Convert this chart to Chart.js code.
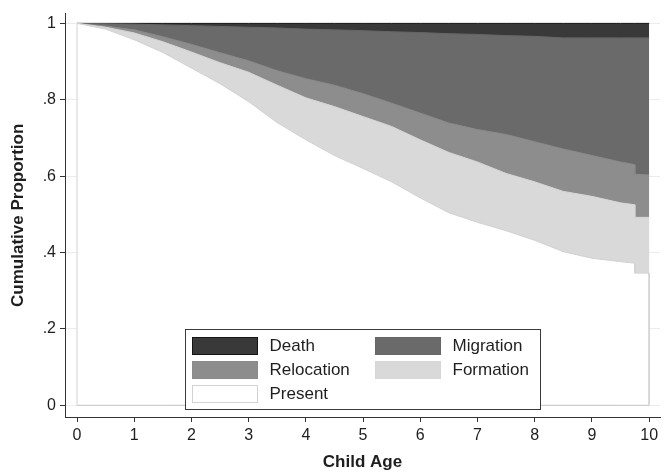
<!DOCTYPE html>
<html>
<head>
<meta charset="utf-8">
<script src="https://cdn.jsdelivr.net/npm/chart.js@4"></script>
<style>
  html, body { margin: 0; padding: 0; background: #fff; }
  #wrap { width: 667px; height: 474px; }
</style>
</head>
<body>
<div id="wrap"><canvas id="c" width="667" height="474"></canvas></div>
<script>
// child age (years), step at 9.75 is doubled on purpose
const ages = [0, 0.5, 1, 1.5, 2, 2.5, 3, 3.5, 4, 4.5, 5, 5.5, 6, 6.5, 7, 7.5, 8, 8.5, 9, 9.5, 9.75, 9.75, 10];

// cumulative upper edge of each band
const presentTop    = [1, 0.985, 0.957, 0.924, 0.883, 0.842, 0.795, 0.740, 0.695, 0.654, 0.620, 0.585, 0.543, 0.504, 0.479, 0.457, 0.432, 0.402, 0.385, 0.376, 0.372, 0.346, 0.346];
const formationTop  = [1, 0.990, 0.975, 0.952, 0.925, 0.897, 0.872, 0.838, 0.805, 0.782, 0.756, 0.730, 0.695, 0.662, 0.637, 0.607, 0.585, 0.560, 0.547, 0.530, 0.525, 0.492, 0.492];
const relocationTop = [1, 0.993, 0.983, 0.965, 0.945, 0.923, 0.902, 0.876, 0.855, 0.838, 0.816, 0.791, 0.765, 0.739, 0.722, 0.709, 0.690, 0.671, 0.654, 0.637, 0.630, 0.605, 0.603];
const migrationTop  = [1, 0.999, 0.998, 0.996, 0.994, 0.992, 0.990, 0.988, 0.985, 0.983, 0.981, 0.978, 0.976, 0.973, 0.971, 0.968, 0.966, 0.962, 0.962, 0.962, 0.962, 0.962, 0.962];
const deathTop      = [1, 1, 1, 1, 1, 1, 1, 1, 1, 1, 1, 1, 1, 1, 1, 1, 1, 1, 1, 1, 1, 1, 1];

const xTicks = [0, 1, 2, 3, 4, 5, 6, 7, 8, 9, 10];
const yTicks = [0, 0.2, 0.4, 0.6, 0.8, 1];
const yTickLabels = ['0', '.2', '.4', '.6', '.8', '1'];

const legendNames = ['Death', 'Migration', 'Relocation', 'Formation', 'Present'];

const FONT = '"Liberation Sans", Arial, sans-serif';

function band(vals, closed) {
    const pts = ages.map((a, i) => ({x: a, y: vals[i]}));
    // only the white band gets its outline down to zero
    if (closed) {
        pts.unshift({x: ages[0], y: 0});
        pts.push({x: ages[ages.length - 1], y: 0});
    }
    return pts;
}

const styles = {
    Death:      {fill: '#393939', line: '#141414'},
    Migration:  {fill: '#6a6a6a', line: '#666666'},
    Relocation: {fill: '#8d8d8d', line: '#8a8a8a'},
    Formation:  {fill: '#d9d9d9', line: '#d6d6d6'},
    Present:    {fill: '#ffffff', line: '#d2d2d2'},
};

function ds(name, vals, closed) {
    return {
        label: name,
        data: band(vals, closed),
        backgroundColor: styles[name].fill,
        borderColor: styles[name].line,
        borderWidth: 1,
        pointRadius: 0,
        fill: 'origin',
        tension: 0,
    };
}

// first dataset ends up on top
const datasets = [
    {label: 'base', data: [{x: 0, y: 0}, {x: 10, y: 0}], borderColor: '#d2d2d2', borderWidth: 1, pointRadius: 0, fill: false},
    ds('Present', presentTop, true),
    ds('Formation', formationTop),
    ds('Relocation', relocationTop),
    ds('Migration', migrationTop),
    ds('Death', deathTop),
];

const legendBox = {
    id: 'legendBox',
    afterDraw(chart) {
        const ctx = chart.ctx;
        ctx.save();
        ctx.fillStyle = '#fff';
        ctx.fillRect(185.5, 329.5, 355, 80);
        ctx.strokeStyle = '#3a3a3a';
        ctx.lineWidth = 1;
        ctx.strokeRect(185.5, 329.5, 355, 80);
        ctx.font = '17px ' + FONT;
        ctx.textBaseline = 'middle';
        legendNames.forEach((name, i) => {
            const col = i % 2, row = Math.floor(i / 2);
            const sx = col === 0 ? 192.5 : 375.5;
            const sy = 337.5 + row * 24;
            ctx.fillStyle = styles[name].fill;
            ctx.fillRect(sx, sy, 65, 17);
            ctx.strokeStyle = styles[name].line;
            ctx.strokeRect(sx, sy, 65, 17);
            ctx.fillStyle = '#1e1e1e';
            ctx.fillText(name, sx + 77, sy + 9);
        });
        ctx.restore();
    }
};

new Chart(document.getElementById('c'), {
    type: 'line',
    data: {datasets: datasets},
    options: {
        responsive: false,
        animation: false,
        parsing: false,
        layout: {padding: {top: 5, right: 7, left: 0, bottom: 0}},
        plugins: {legend: {display: false}, tooltip: {enabled: false}},
        scales: {
            x: {
                type: 'linear',
                min: -0.21,
                max: 10.19,
                afterBuildTicks: s => { s.ticks = xTicks.map(v => ({value: v})); },
                afterFit: s => { s.height = 57; },
                ticks: {font: {family: FONT, size: 16}, color: '#1e1e1e', padding: 4, maxRotation: 0},
                grid: {drawOnChartArea: false, tickLength: 5, tickColor: '#333'},
                border: {color: '#333', width: 1},
                title: {display: true, text: 'Child Age', font: {family: FONT, size: 17, weight: 'bold'}, color: '#1e1e1e', padding: {top: 0, bottom: 1}},
            },
            y: {
                type: 'linear',
                min: -0.0308,
                max: 1.0256,
                afterBuildTicks: s => { s.ticks = yTicks.map(v => ({value: v})); },
                afterFit: s => { s.width = 65; },
                ticks: {
                    font: {family: FONT, size: 16}, color: '#1e1e1e', padding: 4,
                    callback: v => yTickLabels[yTicks.indexOf(v)],
                },
                grid: {color: '#ececec', tickLength: 5, tickColor: '#333'},
                border: {color: '#333', width: 1},
                title: {display: true, text: 'Cumulative Proportion', font: {family: FONT, size: 17, weight: 'bold'}, color: '#1e1e1e', padding: {top: 8, bottom: 0}},
            },
        },
    },
    plugins: [legendBox],
});
</script>
</body>
</html>
